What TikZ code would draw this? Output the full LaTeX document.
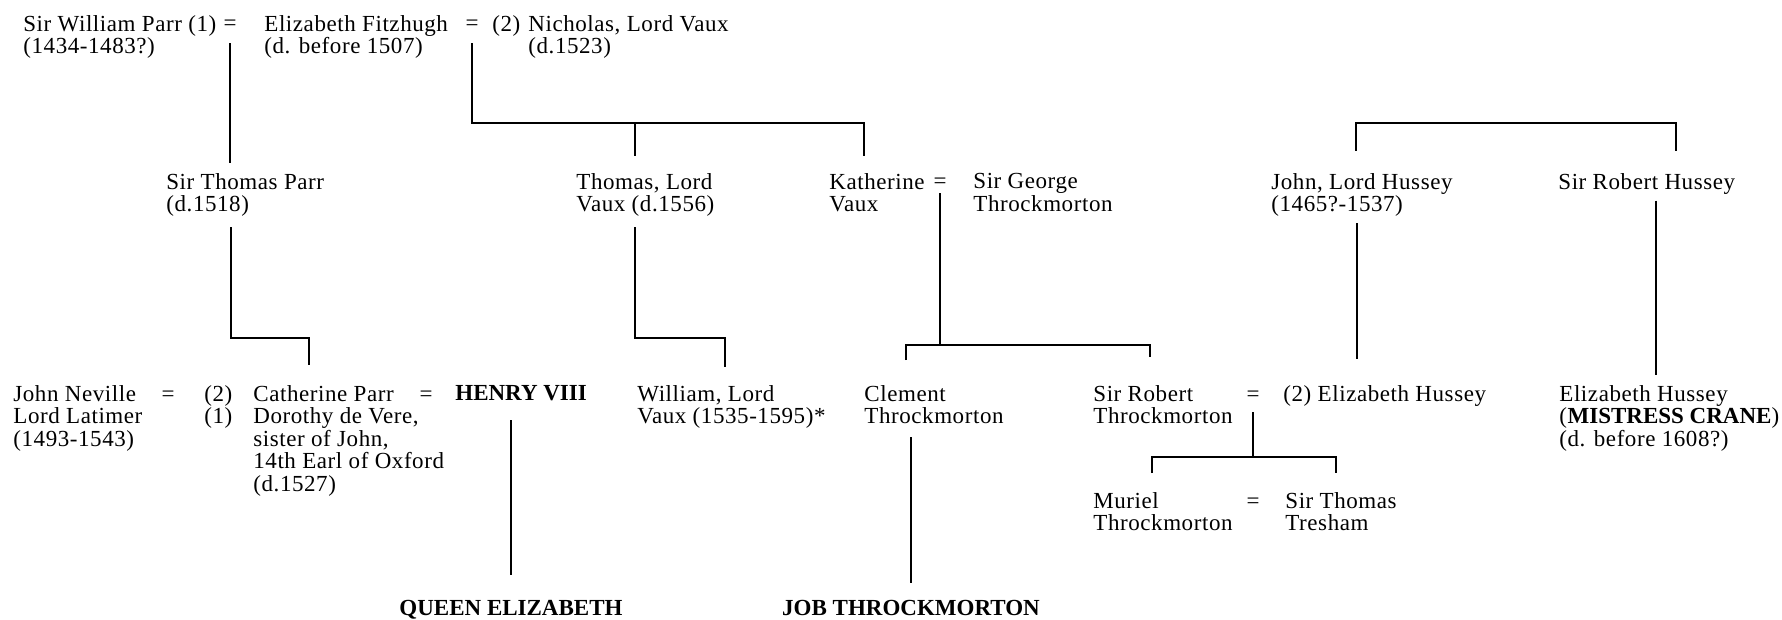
\documentclass[tikz,border=0pt]{standalone}
\usepackage{fontspec}
\setmainfont{Liberation Serif}[LetterSpace=2.5,BoldFeatures={LetterSpace=0}]

\begin{document}
\begin{tikzpicture}[x=0.5pt,y=-0.5pt,
	every node/.style={inner sep=0pt,font=\fontsize{11.5}{11.25}\selectfont},
	person/.style={anchor=north west,align=left,yshift=8pt},
	eq/.style={anchor=base},
	heir/.style={anchor=base,font=\fontsize{11.5}{11.25}\selectfont\bfseries},
	line/.style={line width=1.4pt}]

	\useasboundingbox (0,0) rectangle (1782,620);

	\node[person] (wparr) at (23,31) {Sir William Parr (1)\\(1434-1483?)};
	\node[eq] (eqA) at (230,31) {=};
	\node[person] (fitzhugh) at (264,31) {Elizabeth Fitzhugh\\(d. before 1507)};
	\node[eq] (eqB) at (472,31) {=};
	\node[person] (twoA) at (492,31) {(2)};
	\node[person] (nvaux) at (528,31) {Nicholas, Lord Vaux\\(d.1523)};

	\node[person] (tparr) at (166,189) {Sir Thomas Parr\\(d.1518)};
	\node[person] (tvaux) at (576,189) {Thomas, Lord\\Vaux (d.1556)};
	\node[person] (katherine) at (829,189) {Katherine\\Vaux};
	\node[eq] (eqC) at (940,189) {=};
	\node[person] (gthrock) at (973,189) {Sir George\\Throckmorton};
	\node[person] (jhussey) at (1271,189) {John, Lord Hussey\\(1465?-1537)};
	\node[person] (rhussey) at (1558,189) {Sir Robert Hussey};

	\node[person] (neville) at (13,401) {John Neville\\Lord Latimer\\(1493-1543)};
	\node[eq] (eqE) at (168,401) {=};
	\node[person] (marno) at (204,401) {(2)\\(1)};
	\node[person] (catherine) at (253,401) {Catherine Parr\\Dorothy de Vere,\\sister of John,\\14th Earl of Oxford\\(d.1527)};
	\node[eq] (eqF) at (426,401) {=};
	\node[person] (henry) at (455,401) {\bfseries HENRY VIII};
	\node[person] (wvaux) at (637,401) {William, Lord\\Vaux (1535-1595)*};
	\node[person] (clement) at (864,401) {Clement\\Throckmorton};
	\node[person] (srobert) at (1093,401) {Sir Robert\\Throckmorton};
	\node[eq] (eqD) at (1253,401) {=};
	\node[person] (ehussey) at (1283,401) {(2) Elizabeth Hussey};
	\node[person] (crane) at (1559,401) {Elizabeth Hussey\\(\textbf{MISTRESS CRANE})\\(d. before 1608?)};

	\node[person] (muriel) at (1093,508) {Muriel\\Throckmorton};
	\node[eq] (eqG) at (1253,508) {=};
	\node[person] (tresham) at (1285,508) {Sir Thomas\\Tresham};

	\node[heir] (qe) at (511,615) {QUEEN ELIZABETH};
	\node[heir] (job) at (911,615) {JOB THROCKMORTON};

	\coordinate (vauxfork) at (472,123);
	\coordinate (tvauxdrop) at (635,156);
	\coordinate (kathdrop) at (864,156);
	\coordinate (husseytop) at (1356,123);
	\coordinate (jhdrop) at (1356,151);
	\coordinate (rhdrop) at (1676,151);
	\coordinate (parrelbow) at (231,338);
	\coordinate (cathdrop) at (309,365);
	\coordinate (vauxelbow) at (635,338);
	\coordinate (wvauxdrop) at (725,367);
	\coordinate (throckfork) at (940,345);
	\coordinate (clemdrop) at (906,360);
	\coordinate (srobdrop) at (1150,357);
	\coordinate (jhend) at (1357,359);
	\coordinate (craneend) at (1656,375);
	\coordinate (tresfork) at (1253,457);
	\coordinate (murieldrop) at (1152,473);
	\coordinate (tresdrop) at (1336,473);

	\draw[line,shorten <=6pt,shorten >=5pt] (eqA.south) -- (eqA.south |- tparr.north);
	\draw[line,shorten <=6pt] (eqB.south) -- (vauxfork) -| (kathdrop);
	\draw[line] (tvauxdrop |- vauxfork) -- (tvauxdrop);
	\draw[line] (jhdrop) -- (husseytop) -| (rhdrop);

	\draw[line,shorten <=5pt] (tparr.south -| parrelbow) -- (parrelbow) -| (cathdrop);
	\draw[line,shorten <=5pt] (tvaux.south -| vauxelbow) -- (vauxelbow) -| (wvauxdrop);
	\draw[line,shorten <=2pt] (eqC.south) -- (throckfork);
	\draw[line] (clemdrop) |- (throckfork) -| (srobdrop);
	\draw[line,shorten <=3pt] (jhussey.south -| jhend) -- (jhend);
	\draw[line,shorten <=3pt] (rhussey.south -| craneend) -- (craneend);

	\draw[line,shorten <=9.5pt,shorten >=12pt] (qe.north |- henry.south) -- (qe.north);
	\draw[line,shorten <=6.5pt,shorten >=8pt] (job.north |- clement.south) -- (job.north);
	\draw[line,shorten <=5.5pt] (eqD.south) -- (tresfork);
	\draw[line] (murieldrop) |- (tresfork) -| (tresdrop);
\end{tikzpicture}
\end{document}
